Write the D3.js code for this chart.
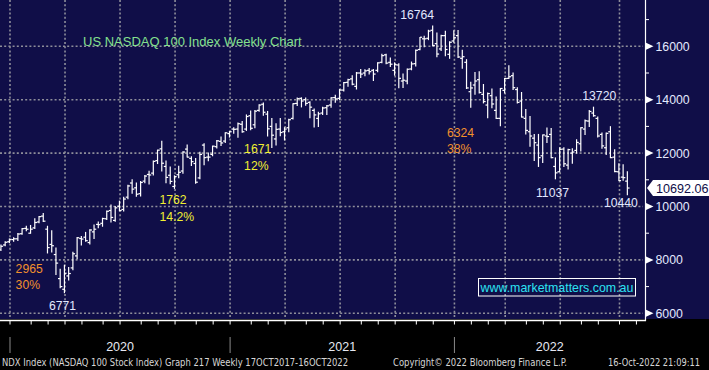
<!DOCTYPE html>
<html>
<head>
<meta charset="utf-8">
<script src="https://d3js.org/d3.v7.min.js"></script>
<style>
html, body { margin: 0; padding: 0; background: #000; }
svg { display: block; font-family: "Liberation Sans", Arial, sans-serif; }
</style>
</head>
<body>
<svg id="chart" width="709" height="370"></svg>
<script>
// weekly bars, one per Friday: 13 Dec 2019 .. 14 Oct 2022
const weeks = d3.timeFriday.range(new Date(2019, 11, 13), new Date(2022, 9, 15));

const opens = [
	8380, 8560, 8680,
	// 2020
	8760, 8790, 8980, 9180, 9000, 9200, 9420, 9640, 9150, 8580,
	8200, 7300, 6900, 7400, 7700, 8150, 8800, 8850, 8650, 9050,
	9330, 9370, 9540, 9850, 9480, 10010, 9890, 10350, 10880, 10700,
	10480, 10950, 11200, 11250, 11720, 12160, 11500, 11170, 10750, 11190,
	11330, 12150, 11800, 11610, 11070, 12300, 11850, 11950, 12240, 12440,
	12450, 12730,
	// 2021
	12900, 12900, 13080, 12900, 13400, 13060, 13600, 13830, 13460, 13000,
	12530, 12900, 12800, 12950, 13300, 13860, 14050, 14000, 13900, 13600,
	13300, 13500, 13700, 13800, 14080, 14050, 14360, 14650, 14780, 14500,
	15000, 15000, 15100, 15100, 15100, 15400, 15680, 15400, 15100, 15300,
	14700, 14700, 15150, 15350, 15880, 16280, 16300, 16600, 16100, 15900,
	16400, 15700, 16200,
	// 2022
	16400, 15550, 15400, 14300, 14550, 14750, 14200, 13800, 14150, 13600,
	13300, 14350, 14800, 14900, 14380, 13950, 13300, 12800, 12560, 12300,
	11900, 12640, 12700, 11500, 11300, 12150, 11550, 12000, 12100, 12350,
	12900, 13200, 13500, 13300, 12700, 12200, 12800, 11850, 11300, 11100,
	10950
];

const highs = [
	8560, 8680, 8780,
	8830, 8990, 9180, 9260, 9290, 9540, 9630, 9736, 9260, 9090,
	8450, 7650, 7800, 7720, 8290, 8840, 8880, 9030, 9130, 9310,
	9420, 9560, 9830, 10060, 10000, 10200, 10350, 10800, 11000, 10880,
	10940, 11160, 11320, 11700, 12110, 12440, 11700, 11480, 11150, 11510,
	12050, 12300, 11860, 11800, 12030, 12350, 12000, 12260, 12470, 12600,
	12760, 12810,
	12950, 13130, 13180, 13430, 13580, 13600, 13810, 13880, 13560, 13300,
	13100, 13300, 12950, 13270, 13850, 14060, 14070, 14060, 13920, 13650,
	13530, 13720, 13780, 14070, 14170, 14380, 14640, 14770, 14900, 15020,
	15130, 15120, 15170, 15130, 15380, 15700, 15700, 15560, 15380, 15350,
	14960, 15150, 15410, 15860, 16330, 16380, 16600, 16764, 16500, 16410,
	16560, 16170, 16580,
	16590, 15850, 15500, 14650, 15020, 15050, 14570, 14250, 14400, 14100,
	14420, 14790, 15270, 15000, 14450, 14270, 13630, 13370, 12700, 12700,
	12680, 12940, 12920, 11820, 12200, 12200, 12140, 12160, 12500, 12950,
	13240, 13600, 13720, 13350, 12750, 12750, 12990, 12130, 11600, 11560,
	11300
];

const lows = [
	8350, 8530, 8650,
	8700, 8730, 8960, 9090, 9000, 9180, 9390, 9440, 8260, 8300,
	7450, 6960, 6771, 7250, 7630, 8040, 8560, 8700, 8600, 8800,
	9200, 9260, 9510, 9420, 9450, 9840, 9830, 10290, 10500, 10380,
	10390, 10890, 10840, 11180, 11610, 11330, 10890, 10850, 10677, 11080,
	11250, 11850, 11540, 10870, 11040, 11560, 11710, 11900, 12190, 12280,
	12400, 12600,
	12740, 12590, 12780, 12850, 12870, 12950, 13570, 13420, 12640, 12209,
	12300, 12650, 12490, 12800, 13280, 13780, 13730, 13790, 13320, 12980,
	13000, 13450, 13450, 13720, 13900, 14000, 14330, 14500, 14560, 14400,
	14830, 14900, 14960, 14720, 15050, 15380, 15350, 15240, 14920, 14450,
	14460, 14600, 15120, 15260, 15870, 15980, 16250, 16020, 15610, 15840,
	15650, 15550, 16150,
	15580, 15180, 14420, 13720, 14200, 14250, 13880, 13320, 13700, 13300,
	13020, 14250, 14790, 14380, 13880, 13350, 12720, 12260, 11720, 11500,
	11650, 12400, 11830, 11037, 11300, 11500, 11400, 11620, 12000, 12080,
	12700, 13000, 13380, 12600, 12180, 11950, 11830, 11300, 10970, 10980,
	10440
];

const closes = [
	8510, 8660, 8770,
	8790, 8970, 9170, 9150, 9150, 9400, 9620, 9450, 8460, 8530,
	7880, 7000, 7500, 7490, 8230, 8830, 8780, 8720, 9120, 9150,
	9320, 9550, 9820, 9590, 9950, 9850, 10280, 10770, 10650, 10460,
	10900, 11140, 11180, 11690, 12110, 11620, 11090, 10940, 11120, 11280,
	12040, 11850, 11680, 10910, 11950, 11830, 11850, 12260, 12460, 12380,
	12760, 12800,
	12890, 13100, 12800, 13370, 12930, 13570, 13800, 13530, 12910, 12670,
	12890, 12770, 12900, 13250, 13850, 14040, 13950, 13860, 13720, 13430,
	13470, 13690, 13770, 14070, 14030, 14360, 14640, 14750, 14580, 15000,
	14960, 15080, 15050, 14960, 15380, 15650, 15370, 15330, 15310, 14800,
	14730, 15140, 15340, 15850, 16340, 16280, 16570, 16030, 15710, 16400,
	15880, 16150, 16320,
	15600, 15610, 14440, 14440, 14700, 14270, 13930, 14230, 13840, 13300,
	14420, 14790, 14860, 14450, 13900, 13350, 12850, 12640, 12390, 11830,
	12680, 12620, 11830, 11260, 12140, 11600, 12130, 12040, 12400, 12950,
	13210, 13560, 13400, 12640, 12270, 12740, 11830, 11310, 10970, 11080,
	10692.06
];

const yTicks = [6000, 8000, 10000, 12000, 14000, 16000];
const yMinor = [7000, 9000, 11000, 13000, 15000, 17000];
const years = [2020, 2021, 2022];

// labelled turning points
const pointLabels = ["16764", "6771", "1762", "1671", "13720", "11037", "10440"];
const pointDates = [new Date(2021, 10, 26), new Date(2020, 2, 27), new Date(2020, 8, 25),
	new Date(2021, 2, 5), new Date(2022, 7, 19), new Date(2022, 5, 17), new Date(2022, 9, 14)];
const pointValues = [16764, 6771, 10677, 12209, 13720, 11037, 10440];
const pctLabels = ["", "", "14.2%", "12%", "", "", ""];
const dropLabels = [["2965", "30%"], ["6324", "38%"]];

const title = "US NASDAQ 100 Index Weekly Chart";
const footerLeft = "NDX Index (NASDAQ 100 Stock Index) Graph 217  Weekly 17OCT2017-16OCT2022";
const footerMid = "Copyright\u00a9 2022 Bloomberg Finance L.P.";
const footerRight = "16-Oct-2022 21:09:11";

const svg = d3.select("#chart"),
	width = +svg.attr("width"),
	height = +svg.attr("height");

const plotRight = 645;
const plotBottom = 319;

const navy = "#100e48";

const x = d3.scaleTime()
	.domain([new Date(2019, 11, 28), new Date(2022, 9, 1)])
	.range([10, 619.5]);
const y = d3.scaleLinear().domain([6000, 16000]).range([313.3, 46.3]);

// start of the weekly slot that holds the first bar of a month
const slotStart = (m) => d3.timeDay.offset(d3.timeFriday.ceil(m), -6);
const months = d3.timeMonth.range(new Date(2019, 11, 1), new Date(2022, 11, 1))
	.map((m) => ({ m, x: x(slotStart(m)) }))
	.filter((d) => d.x >= 0 && d.x <= plotRight);

svg.append("rect").attr("width", width).attr("height", height).attr("fill", "#000");
svg.append("rect").attr("width", width).attr("height", plotBottom).attr("fill", navy);

// dotted grid
const grid = svg.append("g")
	.attr("stroke", "#8e8e9a")
	.attr("stroke-width", 1.6)
	.attr("stroke-dasharray", "2,2.2");

grid.selectAll("line.h")
	.data(yTicks)
	.enter()
	.append("line")
	.attr("x1", 0)
	.attr("x2", plotRight - 2)
	.attr("y1", (d) => y(d))
	.attr("y2", (d) => y(d));

grid.selectAll("line.v")
	.data(months.filter((d) => d.m.getMonth() % 3 === 0))
	.enter()
	.append("line")
	.attr("x1", (d) => d.x)
	.attr("x2", (d) => d.x)
	.attr("y1", 0)
	.attr("y2", plotBottom - 2);

// OHLC bars
const bars = svg.append("g")
	.attr("stroke", "#fff")
	.attr("stroke-width", 1.2)
	.selectAll("g")
	.data(weeks)
	.enter()
	.append("g");

bars.append("line")
	.attr("x1", (d) => x(d))
	.attr("x2", (d) => x(d))
	.attr("y1", (d, i) => y(highs[i]) - 0.5)
	.attr("y2", (d, i) => y(lows[i]) + 0.5);

bars.append("line")
	.attr("x1", (d) => x(d) - 2.2)
	.attr("x2", (d) => x(d))
	.attr("y1", (d, i) => y(opens[i]))
	.attr("y2", (d, i) => y(opens[i]));

bars.append("line")
	.attr("x1", (d) => x(d))
	.attr("x2", (d) => x(d) + 2.2)
	.attr("y1", (d, i) => y(closes[i]))
	.attr("y2", (d, i) => y(closes[i]));

// right axis
svg.append("line")
	.attr("x1", plotRight + 0.5).attr("x2", plotRight + 0.5)
	.attr("y1", 0).attr("y2", plotBottom + 2)
	.attr("stroke", "#fff").attr("stroke-width", 1.2);

svg.append("g")
	.selectAll("line")
	.data(yMinor)
	.enter()
	.append("line")
	.attr("x1", plotRight)
	.attr("x2", plotRight + 4)
	.attr("y1", (d) => y(d))
	.attr("y2", (d) => y(d))
	.attr("stroke", "#fff");

const yLab = svg.append("g").selectAll("g").data(yTicks).enter().append("g")
	.attr("transform", (d) => `translate(${plotRight},${y(d)})`);
yLab.append("path").attr("d", "M1,-3.5L8.5,0L1,3.5Z").attr("fill", "#fff");
yLab.append("text")
	.attr("x", 10.5)
	.attr("y", 4.5)
	.attr("fill", "#e4eaff")
	.attr("font-size", 12.3)
	.text((d) => d);

// last price flag
const last = closes[closes.length - 1];
const flag = svg.append("g").attr("transform", `translate(${plotRight + 2},${y(last)})`);
flag.append("path").attr("d", "M0,0L6,-8H62V8H6Z").attr("fill", "#fff");
flag.append("text")
	.attr("x", 9)
	.attr("y", 4.6)
	.attr("fill", navy)
	.attr("font-size", 12.6)
	.text(d3.format(".2f")(last));

// bottom axis
svg.append("line")
	.attr("x1", 0).attr("x2", plotRight + 1)
	.attr("y1", 320.5).attr("y2", 320.5)
	.attr("stroke", "#fff").attr("stroke-width", 1.3);

svg.append("g")
	.selectAll("line")
	.data(months)
	.enter()
	.append("line")
	.attr("x1", (d) => d.x)
	.attr("x2", (d) => d.x)
	.attr("y1", 320)
	.attr("y2", 324.5)
	.attr("stroke", "#fff");

const yearStarts = years.map((yr) => x(slotStart(new Date(yr, 0, 1))));
svg.append("g")
	.selectAll("line")
	.data(yearStarts)
	.enter()
	.append("line")
	.attr("x1", (d) => d)
	.attr("x2", (d) => d)
	.attr("y1", 337)
	.attr("y2", 353)
	.attr("stroke", "#8a8a8a");

svg.append("g")
	.selectAll("text")
	.data(years)
	.enter()
	.append("text")
	.attr("x", (d, i) => ((yearStarts[i] + (i < years.length - 1 ? yearStarts[i + 1] : plotRight)) / 2))
	.attr("y", 350.5)
	.attr("text-anchor", "middle")
	.attr("fill", "#e6e8f2")
	.attr("font-size", 12.5)
	.text((d) => d);

// title
svg.append("text")
	.attr("x", 83)
	.attr("y", 46)
	.attr("fill", "#84e08e")
	.attr("font-size", 13)
	.text(title);

// annotations, offset from the bar they describe
const pointOffsets = [[-32.4, -6.9], [-15.5, 17.3], [-15, 16], [-27.7, 5.8], [-11.2, -7.2], [-19.4, 17.9], [-23.4, 12.5]];
const pointColors = ["#e2e8ff", "#e2e8ff", "#f2f032", "#f2f032", "#e2e8ff", "#e2e8ff", "#e2e8ff"];

const notes = svg.append("g").attr("font-size", 12.2);
pointLabels.forEach((lab, i) => {
	const px = x(pointDates[i]) + pointOffsets[i][0];
	const py = y(pointValues[i]) + pointOffsets[i][1];
	notes.append("text").attr("x", px).attr("y", py).attr("fill", pointColors[i]).text(lab);
	if (pctLabels[i]) {
		notes.append("text").attr("x", px).attr("y", py + 16.2).attr("fill", pointColors[i]).text(pctLabels[i]);
	}
});

// drop sizes (orange), placed beside the high / low they measure
const dropAnchors = [[x(pointDates[1]) - 48.8, y(pointValues[1]) - 20.2], [x(pointDates[0]) + 14.3, y(pointValues[0]) + 110.8]];
dropLabels.forEach((pair, i) => {
	pair.forEach((t, j) => {
		notes.append("text")
			.attr("x", dropAnchors[i][0])
			.attr("y", dropAnchors[i][1] + j * 16)
			.attr("fill", "#f2912c")
			.text(t);
	});
});

// website box
svg.append("rect")
	.attr("x", 478.5).attr("y", 278.5)
	.attr("width", 157).attr("height", 17.5)
	.attr("fill", "none").attr("stroke", "#fff").attr("stroke-width", 1);
svg.append("text")
	.attr("x", 480.5).attr("y", 291.6)
	.attr("fill", "#2ce2f2")
	.attr("font-size", 12.4)
	.text("www.marketmatters.com.au");

// footer
const foot = svg.append("g").attr("fill", "#d6d6d6").attr("font-size", 10)
	.attr("font-family", "'DejaVu Sans Condensed', 'DejaVu Sans', sans-serif");
foot.append("text").attr("x", 2).attr("y", 365.5).attr("textLength", 346).attr("lengthAdjust", "spacingAndGlyphs").text(footerLeft);
foot.append("text").attr("x", 393).attr("y", 365.5).attr("textLength", 174).attr("lengthAdjust", "spacingAndGlyphs").text(footerMid);
foot.append("text").attr("x", 608).attr("y", 365.5).attr("textLength", 92).attr("lengthAdjust", "spacingAndGlyphs").text(footerRight);
</script>
</body>
</html>
